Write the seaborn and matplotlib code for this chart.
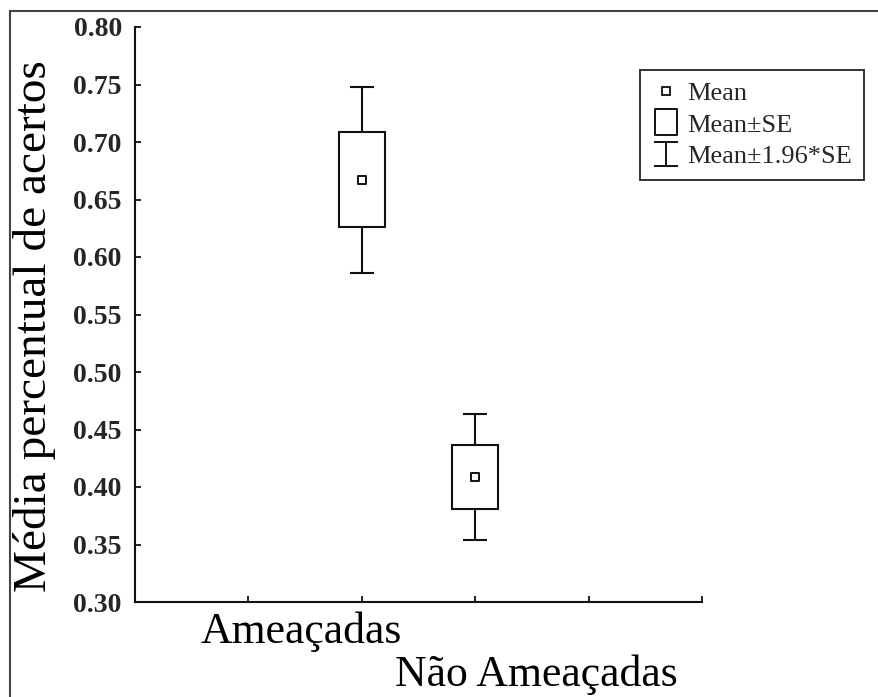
import numpy as np
import pandas as pd
import matplotlib
matplotlib.use("Agg")
import matplotlib.pyplot as plt
import seaborn as sns
from matplotlib.patches import Rectangle
from matplotlib.lines import Line2D
from matplotlib.path import Path
from matplotlib import transforms

# Data: proportion of correct answers per group
groups = ["Ameaçadas", "Não Ameaçadas"]
means = [0.667, 0.409]
se = [0.0413, 0.0279]
yticks = [0.30, 0.35, 0.40, 0.45, 0.50, 0.55, 0.60, 0.65, 0.70, 0.75, 0.80]
ylabel = "Média percentual de acertos"
legend_labels = ["Mean", "Mean±SE", "Mean±1.96*SE"]

sns.set_theme(style="white")
plt.rcParams["font.family"] = ["Liberation Serif", "DejaVu Serif"]

df = pd.DataFrame({"group": groups, "mean": means, "se": se})
df["pos"] = [2, 3]
df["ci"] = 1.96 * df["se"]

fig = plt.figure(figsize=(8.79, 6.97), dpi=100)
ax = fig.add_axes([135 / 879, 95 / 697, 567 / 879, 575 / 697])

ink = "#111111"

# 1.96*SE whiskers
ax.errorbar(df["pos"], df["mean"], yerr=df["ci"], fmt="none", ecolor=ink,
            elinewidth=1.5, capsize=8.5, capthick=1.5, zorder=2)
# SE boxes
ax.bar(df["pos"], 2 * df["se"], bottom=df["mean"] - df["se"], width=0.41,
       color="white", edgecolor=ink, linewidth=1.5, zorder=3)
# Means
sns.scatterplot(data=df, x="pos", y="mean", marker="s", s=30, color="white",
                edgecolor=ink, linewidth=1.4, zorder=5, ax=ax, legend=False)

ax.set_xlim(0, 5)
ax.set_ylim(0.30, 0.80)
ax.set_xticks([1, 2, 3, 4, 5])
ax.set_xticklabels([])
ax.set_yticks(yticks)
ax.set_yticklabels([f"{v:.2f}" for v in yticks], fontweight="bold", fontsize=20)
ax.tick_params(axis="both", direction="in", length=4, width=1.3, color=ink,
               left=True, bottom=True)
ax.tick_params(axis="y", pad=9.5)
ax.set_xlabel("")
ax.set_ylabel("")
for side in ["top", "right"]:
    ax.spines[side].set_visible(False)
for side in ["left", "bottom"]:
    ax.spines[side].set_color(ink)
    ax.spines[side].set_linewidth(1.5)

# Staggered category labels under the axis
blend = transforms.blended_transform_factory(ax.transData, fig.transFigure)
ax.text(1.47, (697 - 643) / 697, groups[0], transform=blend, ha="center",
        va="baseline", fontsize=31.5, color="black")
ax.text(3.54, (697 - 686) / 697, groups[1], transform=blend, ha="center",
        va="baseline", fontsize=31.5, color="black")

fig.text(35 / 879, (697 - 326) / 697, ylabel, rotation=90, ha="center",
         va="center", fontsize=34, color="black")

# Legend
box_path = Path([(-0.85, -1), (0.85, -1), (0.85, 1), (-0.85, 1), (-0.85, -1)],
                [Path.MOVETO, Path.LINETO, Path.LINETO, Path.LINETO, Path.CLOSEPOLY])
i_path = Path([(-1, 1), (1, 1), (0, 1), (0, -1), (-1, -1), (1, -1)],
              [Path.MOVETO, Path.LINETO, Path.MOVETO, Path.LINETO, Path.MOVETO, Path.LINETO])
handles = [
    Line2D([], [], marker="s", linestyle="none", markersize=5.5,
           markerfacecolor="white", markeredgecolor=ink, markeredgewidth=1.3),
    Line2D([], [], marker=box_path, linestyle="none", markersize=19,
           markerfacecolor="none", markeredgecolor=ink, markeredgewidth=1.4),
    Line2D([], [], marker=i_path, linestyle="none", markersize=17,
           markerfacecolor="none", markeredgecolor=ink, markeredgewidth=1.4),
]
leg = ax.legend(handles, legend_labels, loc="upper right",
                bbox_to_anchor=(864 / 879, (697 - 70) / 697),
                bbox_transform=fig.transFigure, borderaxespad=0,
                frameon=True, fancybox=False, framealpha=1, edgecolor="#333333",
                fontsize=19, handlelength=1.1, handletextpad=0.25,
                labelspacing=0.3, borderpad=0.45)
leg.get_frame().set_linewidth(1.4)

# Outer frame
fig.patches.append(Rectangle((10 / 879, -0.1), 2.0, (697 - 11) / 697 + 0.1,
                             transform=fig.transFigure, fill=False,
                             edgecolor="#444444", linewidth=1.5))

fig.savefig("out.png", dpi=100)
